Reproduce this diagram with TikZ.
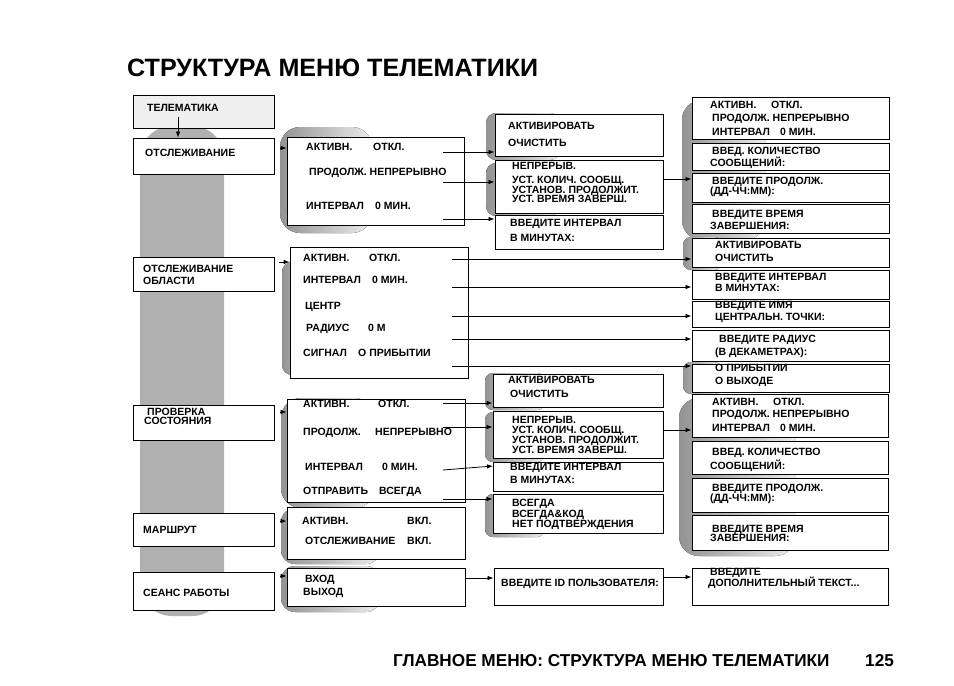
\documentclass[tikz,border=0pt]{standalone}
\usepackage{fontspec}
\setmainfont{Liberation Sans}
\usetikzlibrary{arrows.meta}
\newcounter{tc}
\tikzset{
  boxst/.style={draw=black,line width=0.9pt,fill=white,inner sep=0pt},
  txt/.style={inner sep=0pt,font=\fontsize{10.5}{10}\selectfont\bfseries},
  blobst/.style={draw=none,left color=gray!85,right color=gray!15},
  arr/.style={line width=0.8pt,-{Latex[length=6pt,width=4.5pt]}},
}
\newcommand\bx[6][]{\node[boxst,#1,minimum width={(#5-#3)*1pt},minimum height={(#6-#4)*1pt}] (#2) at ({(#3+#5)/2},{(#4+#6)/2}) {};}
\newcommand\tx[3]{\stepcounter{tc}\node[txt,anchor=base west] (t\thetc) at (#1,{#2+3.8}) {#3};}
\newcommand\mb[2]{\makebox[#1pt][l]{#2}}
\begin{document}
\begin{tikzpicture}[x=1pt,y=-1pt]
\path[use as bounding box,fill=white] (0,0) rectangle (954,686);
% background blobs
\fill[gray!62,rounded corners=32] (140,126) rectangle (224,616);
\fill[blobst,rounded corners=20] (280,127) rectangle (372,233);
\fill[blobst,rounded corners=10] (486,113) rectangle (560,160);
\fill[blobst,rounded corners=10] (486,163) rectangle (560,216);
\fill[blobst,rounded corners=20] (682,100) rectangle (765,240);
\fill[blobst,rounded corners=10] (282,262) rectangle (335,375);
\fill[blobst,rounded corners=8] (683,237) rectangle (722,270);
\fill[blobst,rounded corners=8] (683,362) rectangle (722,394);
\fill[blobst,rounded corners=20] (281,398) rectangle (375,508);
\fill[blobst,rounded corners=8] (485,373) rectangle (545,410);
\fill[blobst,rounded corners=8] (485,412) rectangle (545,462);
\fill[blobst,rounded corners=8] (485,494) rectangle (545,537);
\fill[blobst,rounded corners=20] (679,398) rectangle (795,556);
\fill[blobst,rounded corners=14] (281,508) rectangle (380,564);
\fill[blobst,rounded corners=14] (281,566) rectangle (380,612);
% left column
\bx[fill={rgb,255:red,239;green,239;blue,239}]{L0}{133}{95}{274}{128}
\bx{L1}{133}{138}{274}{174}
\bx{L2}{133}{257}{274}{291}
\bx{L3}{133}{405}{274}{440}
\bx{L4}{133}{513}{274}{546}
\bx{L5}{133}{572}{274}{610}
% A boxes
\bx{A1}{287}{137}{464}{225}
\bx{A2}{290}{247}{468}{378}
\bx{A3}{287}{399}{465}{502}
\bx{A4}{287}{507}{465}{559}
\bx{A5}{287}{568}{465}{606}
% B boxes
\bx{B1}{495}{114}{663}{156}
\bx{B2}{495}{160}{663}{213}
\bx{B3}{495}{215}{663}{249}
\bx{B4}{493}{374}{663}{407}
\bx{B5}{493}{411}{663}{458}
\bx{B6}{493}{462}{663}{491}
\bx{B7}{493}{494}{663}{533}
\bx{B8}{494}{568}{663}{605}
% right column
\bx{C1}{692}{97}{889}{139}
\bx{C2}{692}{143}{889}{170}
\bx{C3}{692}{173}{889}{202}
\bx{C4}{692}{204}{889}{233}
\bx{D1}{692}{238}{889}{267}
\bx{D2}{692}{270}{889}{299}
\bx{D3}{692}{301}{889}{327}
\bx{D4}{692}{330}{889}{361}
\bx{D5}{692}{364}{889}{392}
\bx{E1}{692}{394}{888}{437}
\bx{E2}{692}{441}{888}{474}
\bx{E3}{692}{478}{888}{512}
\bx{E4}{692}{515}{888}{550}
\bx{F1}{692}{568}{888}{605}
% title and footer
\node[inner sep=0pt,anchor=base west,font=\fontsize{25.1}{26}\selectfont\bfseries] (title) at (127,76) {СТРУКТУРА МЕНЮ ТЕЛЕМАТИКИ};
\node[inner sep=0pt,anchor=base west,font=\fontsize{17.2}{18}\selectfont\bfseries] (foot) at (393,666) {ГЛАВНОЕ МЕНЮ: СТРУКТУРА МЕНЮ ТЕЛЕМАТИКИ};
\node[inner sep=0pt,anchor=base west,font=\fontsize{17.2}{18}\selectfont\bfseries] (page) at (865,666) {125};
% texts left
\tx{147}{108}{ТЕЛЕМАТИКА}
\tx{145}{153}{ОТСЛЕЖИВАНИЕ}
\tx{143}{269}{ОТСЛЕЖИВАНИЕ}
\tx{143}{281}{ОБЛАСТИ}
\tx{147}{412}{ПРОВЕРКА}
\tx{144}{421}{СОСТОЯНИЯ}
\tx{143}{530}{МАРШРУТ}
\tx{143}{593}{СЕАНС РАБОТЫ}
% A1
\tx{306}{147}{\mb{67}{АКТИВН.}ОТКЛ.}
\tx{309}{172}{ПРОДОЛЖ. НЕПРЕРЫВНО}
\tx{306}{206}{\mb{69}{ИНТЕРВАЛ}0 МИН.}
% B1-B3
\tx{508}{126}{АКТИВИРОВАТЬ}
\tx{508}{143}{ОЧИСТИТЬ}
\tx{512}{166}{НЕПРЕРЫВ.}
\tx{512}{180}{УСТ. КОЛИЧ. СООБЩ.}
\tx{512}{190}{УСТАНОВ. ПРОДОЛЖИТ.}
\tx{512}{199}{УСТ. ВРЕМЯ ЗАВЕРШ.}
\tx{510}{223}{ВВЕДИТЕ ИНТЕРВАЛ}
\tx{510}{238}{В МИНУТАХ:}
% C
\tx{710}{105}{\mb{61}{АКТИВН.}ОТКЛ.}
\tx{712}{118}{ПРОДОЛЖ. НЕПРЕРЫВНО}
\tx{712}{132}{\mb{68}{ИНТЕРВАЛ}0 МИН.}
\tx{712}{151}{ВВЕД. КОЛИЧЕСТВО}
\tx{710}{163}{СООБЩЕНИЙ:}
\tx{712}{181}{ВВЕДИТЕ ПРОДОЛЖ.}
\tx{710}{191}{(ДД-ЧЧ:ММ):}
\tx{712}{214}{ВВЕДИТЕ ВРЕМЯ}
\tx{710}{226}{ЗАВЕРШЕНИЯ:}
% A2
\tx{303}{258}{\mb{66}{АКТИВН.}ОТКЛ.}
\tx{303}{280}{\mb{69}{ИНТЕРВАЛ}0 МИН.}
\tx{305}{306}{ЦЕНТР}
\tx{306}{328}{\mb{62}{РАДИУС}0 М}
\tx{303}{353}{\mb{55}{СИГНАЛ}О ПРИБЫТИИ}
% D
\tx{715}{245}{АКТИВИРОВАТЬ}
\tx{715}{258}{ОЧИСТИТЬ}
\tx{715}{277}{ВВЕДИТЕ ИНТЕРВАЛ}
\tx{715}{288}{В МИНУТАХ:}
\tx{715}{305}{ВВЕДИТЕ ИМЯ}
\tx{715}{317}{ЦЕНТРАЛЬН. ТОЧКИ:}
\tx{719}{339}{ВВЕДИТЕ РАДИУС}
\tx{715}{352}{(В ДЕКАМЕТРАХ):}
\tx{715}{368}{О ПРИБЫТИИ}
\tx{715}{381}{О ВЫХОДЕ}
% A3
\tx{303}{404}{\mb{75}{АКТИВН.}ОТКЛ.}
\tx{303}{432}{\mb{72}{ПРОДОЛЖ.}НЕПРЕРЫВНО}
\tx{305}{467}{\mb{77}{ИНТЕРВАЛ}0 МИН.}
\tx{303}{491}{\mb{76}{ОТПРАВИТЬ}ВСЕГДА}
% B4-B7
\tx{508}{380}{АКТИВИРОВАТЬ}
\tx{510}{394}{ОЧИСТИТЬ}
\tx{512}{420}{НЕПРЕРЫВ.}
\tx{512}{430}{УСТ. КОЛИЧ. СООБЩ.}
\tx{512}{440}{УСТАНОВ. ПРОДОЛЖИТ.}
\tx{512}{450}{УСТ. ВРЕМЯ ЗАВЕРШ.}
\tx{510}{467}{ВВЕДИТЕ ИНТЕРВАЛ}
\tx{510}{480}{В МИНУТАХ:}
\tx{512}{503}{ВСЕГДА}
\tx{512}{514}{ВСЕГДА\&КОД}
\tx{512}{524}{НЕТ ПОДТВЕРЖДЕНИЯ}
% E
\tx{712}{402}{\mb{61}{АКТИВН.}ОТКЛ.}
\tx{712}{414}{ПРОДОЛЖ. НЕПРЕРЫВНО}
\tx{712}{428}{\mb{68}{ИНТЕРВАЛ}0 МИН.}
\tx{712}{452}{ВВЕД. КОЛИЧЕСТВО}
\tx{710}{466}{СООБЩЕНИЙ:}
\tx{712}{488}{ВВЕДИТЕ ПРОДОЛЖ.}
\tx{710}{498}{(ДД-ЧЧ:ММ):}
\tx{712}{529}{ВВЕДИТЕ ВРЕМЯ}
\tx{710}{538}{ЗАВЕРШЕНИЯ:}
% A4, A5, B8, F1
\tx{302}{521}{\mb{105}{АКТИВН.}ВКЛ.}
\tx{305}{541}{\mb{102}{ОТСЛЕЖИВАНИЕ}ВКЛ.}
\tx{305}{579}{ВХОД}
\tx{303}{592}{ВЫХОД}
\tx{501}{583}{ВВЕДИТЕ ID ПОЛЬЗОВАТЕЛЯ:}
\tx{710}{572}{ВВЕДИТЕ}
\tx{708}{583}{ДОПОЛНИТЕЛЬНЫЙ ТЕКСТ...}
% connectors
\coordinate (s0) at (178,117);
\draw[arr] (s0) -- (s0 |- L1.north);
\coordinate (p1) at (280,148); \draw[arr] (p1) -- (p1 -| A1.west);
\coordinate (p2) at (279,262); \draw[arr] (p2) -- (p2 -| A2.west);
\coordinate (p3) at (280,412); \draw[arr] (p3) -- (p3 -| A3.west);
\coordinate (p4) at (280,521); \draw[arr] (p4) -- (p4 -| A4.west);
\coordinate (p5) at (280,576); \draw[arr] (p5) -- (p5 -| A5.west);
% A1 -> B
\coordinate (a11) at (443,152); \draw[arr] (a11) -- (a11 -| B1.west);
\coordinate (a12) at (443,182); \draw[arr] (a12) -- (a12 -| B2.west);
\coordinate (a13) at (443,219); \draw[arr] (a13) -- (a13 -| B3.west);
\coordinate (b2c) at (663,179); \draw[arr] (b2c) -- (b2c -| C3.west);
% A2 -> D
\coordinate (a21) at (452,259); \draw[arr] (a21) -- (a21 -| D1.west);
\coordinate (a22) at (452,287); \draw[arr] (a22) -- (a22 -| D2.west);
\coordinate (a23) at (452,316); \draw[arr] (a23) -- (a23 -| D3.west);
\coordinate (a24) at (452,339); \draw[arr] (a24) -- (a24 -| D4.west);
\coordinate (a25) at (452,366); \draw[arr] (a25) -- (a25 -| D5.west);
% A3 -> B
\coordinate (a31) at (443,403); \draw[arr] (a31) -- (a31 -| B4.west);
\coordinate (a32) at (443,427); \draw[arr] (a32) -- (a32 -| B5.west);
\coordinate (a33) at (443,470); \coordinate (a33e) at (493,466); \draw[arr] (a33) -- (a33e);
\coordinate (a34) at (443,499); \draw[arr] (a34) -- (a34 -| B7.west);
\coordinate (b5e) at (663,430); \draw[arr] (b5e) -- (b5e -| E1.west);
% A5 -> B8 -> F1
\coordinate (a51) at (465,578); \draw[arr] (a51) -- (a51 -| B8.west);
\coordinate (b81) at (663,577); \draw[arr] (b81) -- (b81 -| F1.west);
\end{tikzpicture}
\end{document}
